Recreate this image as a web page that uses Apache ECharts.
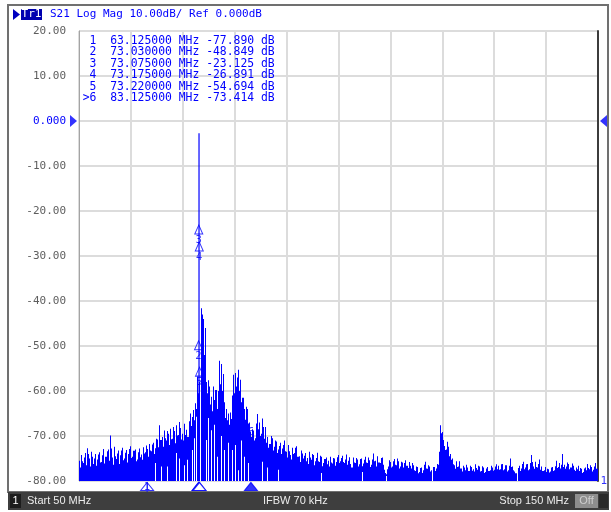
<!DOCTYPE html>
<html>
<head>
<meta charset="utf-8">
<script src="https://cdn.jsdelivr.net/npm/echarts@6/dist/echarts.min.js"></script>
<style>
  html, body { margin: 0; padding: 0; background: #ffffff; }
  #chart { width: 611px; height: 512px; }
</style>
</head>
<body>
<div id="chart"></div>
<script>
// Sweep: 50 MHz to 150 MHz, trace peak level sampled in 0.2 MHz bins
const startMHz = 50;
const stopMHz = 150;
const binMHz = 0.2;

// Peak level of each bin, 50.0 ... 150.0 MHz (dB), twenty bins (4 MHz) per row
const traceTopDb = [
  -75.5, -77.0, -74.2, -75.6, -76.0, -74.8, -73.8, -76.5, -72.7, -74.0, -75.0, -76.8, -73.5, -74.6, -76.2, -75.0, -74.0, -76.6, -75.2, -74.1,
  -73.6, -75.9, -75.8, -74.3, -72.9, -76.1, -74.6, -73.4, -73.0, -75.5, -69.9, -72.8, -74.8, -76.4, -72.4, -74.5, -75.1, -73.9, -73.2, -76.2,
  -74.3, -73.2, -72.6, -75.4, -75.0, -73.7, -73.1, -75.9, -74.0, -72.9, -72.3, -74.9, -74.6, -73.3, -73.0, -75.6, -75.2, -73.6, -72.8, -74.7,
  -74.1, -75.3, -72.5, -73.9, -73.6, -72.1, -72.9, -74.6, -71.8, -73.2, -73.4, -71.9, -71.5, -74.0, -72.7, -70.6, -70.8, -72.5, -67.6, -70.9,
  -70.2, -72.4, -68.8, -70.5, -71.0, -68.9, -69.5, -72.0, -68.4, -70.7, -70.6, -68.0, -68.9, -71.6, -67.6, -69.9, -69.8, -66.9, -68.2, -70.8,
  -69.5, -71.0, -67.3, -69.8, -68.6, -70.2, -66.7, -65.0, -67.8, -65.8, -64.2, -66.5, -62.7, -64.0, -56.8, -60.5, -58.0, -62.0, -41.6, -43.0,
  -44.0, -52.0, -46.0, -58.0, -60.5, -57.6, -59.0, -63.0, -61.3, -64.5, -59.0, -62.0, -59.8, -64.0, -60.0, -53.3, -58.5, -54.0, -60.0, -56.2,
  -62.5, -66.0, -64.0, -66.5, -65.0, -67.5, -64.8, -66.2, -61.0, -56.4, -60.5, -56.0, -59.0, -57.0, -55.3, -60.0, -57.5, -62.5, -61.5, -64.0,
  -66.4, -63.5, -64.0, -67.2, -67.0, -69.0, -70.2, -68.5, -68.8, -71.0, -70.5, -67.2, -65.1, -68.5, -67.0, -70.0, -69.5, -66.1, -68.0, -70.6,
  -68.0, -71.5, -70.2, -72.6, -71.8, -70.0, -70.5, -73.2, -72.4, -71.0, -71.2, -73.8, -73.0, -72.2, -71.5, -74.0, -72.8, -72.0, -71.0, -73.4,
  -73.5, -74.8, -72.0, -73.4, -74.2, -75.2, -72.6, -74.0, -73.8, -72.6, -72.3, -74.6, -74.5, -75.8, -73.2, -73.9, -75.0, -74.4, -73.8, -75.6,
  -74.9, -76.2, -73.5, -74.8, -75.3, -74.0, -74.2, -76.5, -75.6, -74.9, -73.7, -75.6, -75.8, -74.4, -74.6, -76.7, -76.0, -75.1, -74.8, -76.3,
  -75.5, -76.8, -74.6, -75.9, -76.1, -74.9, -75.0, -76.6, -75.8, -74.7, -74.2, -76.0, -75.6, -74.9, -74.4, -75.8, -76.0, -75.2, -74.1, -76.4,
  -75.5, -74.7, -76.2, -77.0, -74.8, -75.9, -76.0, -74.9, -75.2, -76.8, -76.3, -75.1, -75.0, -76.7, -76.1, -75.3, -74.6, -75.9, -76.0, -74.8,
  -75.4, -76.9, -76.4, -75.2, -73.9, -75.6, -75.5, -76.8, -74.5, -75.9, -76.0, -74.9, -74.8, -76.4, -77.5, -78.2, -78.5, -77.4, -76.8, -75.4,
  -75.8, -77.0, -76.8, -75.6, -75.1, -76.4, -76.5, -75.0, -75.6, -77.2, -76.8, -75.7, -75.9, -77.0, -76.0, -75.4, -76.6, -77.1, -75.8, -76.6,
  -77.2, -76.0, -76.5, -77.6, -77.8, -76.8, -76.9, -78.3, -78.0, -77.1, -77.0, -78.2, -77.6, -76.4, -75.7, -77.2, -77.3, -76.5, -76.8, -77.9,
  -77.6, -78.2, -76.9, -77.8, -77.2, -76.2, -76.4, -73.5, -67.6, -69.4, -69.1, -70.9, -72.2, -73.1, -73.0, -71.3, -72.4, -74.5, -74.0, -75.3,
  -75.0, -76.3, -76.5, -77.3, -75.6, -76.9, -76.8, -75.6, -77.2, -77.9, -76.6, -77.0, -77.6, -76.4, -77.0, -77.8, -77.8, -76.6, -76.9, -77.7,
  -77.4, -77.9, -76.3, -77.1, -77.5, -76.6, -76.8, -77.9, -77.8, -76.7, -77.0, -78.2, -78.0, -77.2, -76.9, -77.8, -77.6, -76.6, -77.0, -77.7,
  -77.5, -76.8, -76.3, -77.4, -76.6, -77.5, -77.4, -76.3, -76.2, -77.6, -77.4, -76.5, -76.5, -77.9, -77.6, -76.6, -75.0, -76.9, -76.8, -77.6,
  -77.9, -78.3, -78.0, -77.1, -76.6, -77.8, -77.2, -76.2, -75.7, -77.4, -77.0, -76.3, -76.2, -77.6, -77.4, -76.0, -74.2, -75.8, -76.8, -77.3,
  -75.7, -76.9, -77.0, -76.2, -75.2, -77.5, -76.8, -77.8, -77.6, -76.9, -78.0, -77.3, -77.4, -78.1, -77.9, -77.0, -76.9, -77.8, -77.6, -76.7,
  -75.5, -77.1, -76.9, -76.0, -77.2, -76.4, -74.0, -76.9, -76.4, -77.3, -76.8, -75.9, -76.2, -77.4, -77.0, -76.1, -76.6, -77.5, -77.8, -77.0,
  -77.4, -76.6, -77.8, -77.1, -77.3, -78.2, -78.0, -77.2, -77.0, -77.6, -76.2, -77.1, -77.4, -76.5, -76.9, -77.9, -77.5, -76.8, -76.0, -77.3,
  -77.2
];

// Narrow spots where the trace minimum stays above the bottom of the scale
const traceMinMHz = [64.6, 65.8, 67.0, 68.6, 69.3, 70.3, 70.9, 71.7, 72.1, 72.5, 73.4, 74.4, 74.9, 75.5, 76.1, 76.6, 77.3, 78.0, 78.7, 79.4,
                     80.1, 80.7, 81.3, 81.8, 82.6, 85.3, 86.2, 88.4, 96.7, 104.5, 109.1, 118.0, 134.3];
const traceMinDb  = [-76.0, -76.8, -76.8, -73.8, -75.0, -76.5, -75.3, -73.1, -70.5, -65.7, -62.0, -70.9, -66.0, -68.7, -67.5, -74.6, -70.0, -73.1, -71.5, -73.1,
                     -72.0, -77.6, -71.0, -74.6, -76.0, -75.7, -77.0, -77.5, -78.2, -78.0, -78.9, -78.0, -77.9];

// Carrier line
const carrierMHz = 73.125;
const carrierDb = -2.7;

// Markers
const markerIds = ['1', '2', '3', '4', '5', '6'];
const markerMHz = [63.125, 73.03, 73.075, 73.175, 73.22, 83.125];
const markerDb  = [-77.89, -48.849, -23.125, -26.891, -54.694, -73.414];
const activeMarker = 5;

// Vertical scale
const refLevelDb = 0;
const yTickValues = [20, 10, 0, -10, -20, -30, -40, -50, -60, -70, -80];
const yTickLabels = ['20.00', '10.00', '0.000', '-10.00', '-20.00', '-30.00', '-40.00', '-50.00', '-60.00', '-70.00', '-80.00'];

const BLUE = '#0000ff';
const MONO = 'DejaVu Sans Mono';

const chart = echarts.init(document.getElementById('chart'), null, { renderer: 'canvas' });

const traceData = traceTopDb.map((v, i) => [startMHz + i * binMHz, v]);
const gapData = traceMinMHz.map((f, i) => [f, traceMinDb[i]]);

function clipToGrid(params, rect) {
  const cs = params.coordSys;
  return echarts.graphic.clipRectByRect(rect, { x: cs.x, y: cs.y, width: cs.width, height: cs.height });
}

const markerRows = markerIds.map((id, i) => {
  const tag = (i === activeMarker ? '>' : '') + id;
  return tag.padStart(2, ' ') + '  ' + markerMHz[i].toFixed(6) + ' MHz ' + markerDb[i].toFixed(3) + ' dB';
});

const option = {
  animation: false,
  backgroundColor: '#ffffff',
  grid: { left: 79, top: 31, right: 13, bottom: 31, show: true, borderColor: '#a4a4a4', borderWidth: 1 },
  xAxis: {
    type: 'value', min: startMHz, max: stopMHz, interval: 10,
    axisLine: { show: false }, axisTick: { show: false }, axisLabel: { show: false },
    splitLine: { show: true, lineStyle: { color: '#dcdcdc', width: 2 } }
  },
  yAxis: [{
    type: 'value', min: -80, max: 20, interval: 10,
    axisLine: { show: true, lineStyle: { color: '#a4a4a4', width: 1 } },
    axisTick: { show: false },
    splitLine: { show: true, lineStyle: { color: '#dcdcdc', width: 2 } },
    axisLabel: {
      margin: 13, fontFamily: MONO, fontSize: 11, color: '#5e5e5e',
      formatter: v => {
        const k = yTickValues.indexOf(v);
        const s = k >= 0 ? yTickLabels[k] : String(v);
        return v === refLevelDb ? '{ref|' + s + '}' : s;
      },
      rich: { ref: { color: BLUE, fontFamily: MONO, fontSize: 11 } }
    }
  }, {
    type: 'value', position: 'right', min: -80, max: 20, interval: 10,
    axisLine: { show: true, onZero: false, lineStyle: { color: '#3c3c3c', width: 2 } },
    axisTick: { show: false }, axisLabel: { show: false }, splitLine: { show: false }
  }],
  series: [
    {
      name: 'trace', type: 'custom', z: 2,
      data: traceData, encode: { x: 0, y: 1 },
      renderItem: (params, api) => {
        const f = api.value(0);
        const a = api.coord([f - binMHz / 2, api.value(1)]);
        const b = api.coord([f + binMHz / 2, -80]);
        const x0 = Math.round(a[0]), x1 = Math.max(Math.round(b[0]), x0 + 1);
        const r = clipToGrid(params, { x: x0, y: a[1], width: x1 - x0, height: b[1] - a[1] + 1 });
        return r && { type: 'rect', shape: r, style: { fill: BLUE } };
      }
    },
    {
      name: 'trace minimum', type: 'custom', z: 3,
      data: gapData, encode: { x: 0, y: 1 },
      renderItem: (params, api) => {
        const a = api.coord([api.value(0), api.value(1)]);
        const b = api.coord([api.value(0), -80]);
        const x0 = Math.round(a[0]);
        const r = clipToGrid(params, { x: x0, y: a[1], width: 1, height: b[1] - a[1] });
        return r && { type: 'rect', shape: r, style: { fill: '#ffffff' } };
      }
    },
    {
      name: 'carrier', type: 'line', z: 4, symbol: 'none',
      data: [[carrierMHz, -80], [carrierMHz, carrierDb]],
      lineStyle: { color: BLUE, width: 1.2 }
    },
    {
      name: 'markers', type: 'scatter', z: 6, clip: false,
      symbol: 'triangle', symbolSize: [8, 9], symbolOffset: [0, 4.5],
      itemStyle: { color: 'rgba(255,255,255,0)', borderColor: BLUE, borderWidth: 1 },
      data: markerMHz.map((f, i) => ({
        value: [f, markerDb[i]],
        label: i === activeMarker ? { position: 'top', distance: 13 } : { position: 'bottom', distance: 1 }
      })),
      label: {
        show: true, color: BLUE, fontFamily: 'DejaVu Sans', fontSize: 10,
        formatter: p => markerIds[p.dataIndex]
      }
    },
    {
      name: 'marker stimulus', type: 'scatter', z: 6, clip: false,
      symbolSize: [13, 8], symbolOffset: [0, 5.5],
      itemStyle: { color: '#ffffff', borderColor: BLUE, borderWidth: 1 },
      data: markerMHz.map((f, i) => {
        if (i === 0) {
          return { value: [f, -80], symbol: 'path://M6.5,0 L13,8 L0,8 Z M6.5,0 L6.5,11 M3,11 L10,11', symbolSize: [13, 11], symbolOffset: [0, 7] };
        }
        if (i === activeMarker) {
          return { value: [f, -80], symbol: 'triangle', itemStyle: { color: BLUE } };
        }
        return { value: [f, -80], symbol: 'triangle' };
      })
    },
    {
      name: 'reference level', type: 'scatter', z: 6, clip: false,
      symbol: 'triangle', symbolSize: [12, 7],
      itemStyle: { color: BLUE },
      data: [
        { value: [startMHz, refLevelDb], symbolRotate: -90, symbolOffset: [-5.5, 0] },
        { value: [stopMHz, refLevelDb], symbolRotate: 90, symbolOffset: [5.5, 0] }
      ]
    },
    {
      name: 'trace number', type: 'scatter', z: 6, clip: false,
      symbolSize: 1, itemStyle: { color: 'rgba(0,0,0,0)' },
      data: [[stopMHz, -80]],
      label: { show: true, position: 'right', distance: 2, formatter: '1', color: BLUE, fontFamily: MONO, fontSize: 11 }
    }
  ],
  graphic: [
    // panel frame
    { type: 'rect', z: 0, shape: { x: 8, y: 5, width: 600, height: 487 }, style: { fill: 'none', stroke: '#707070', lineWidth: 2 } },
    // trace title row
    { type: 'polygon', z: 10, shape: { points: [[13, 9], [20, 14.5], [13, 20]] }, style: { fill: '#0000c0' } },
    { type: 'rect', z: 10, shape: { x: 21, y: 9, width: 21, height: 11 }, style: { fill: '#0000b0' } },
    { type: 'text', z: 11, x: 31.5, y: 14.5, style: { text: 'Tr1', fill: '#ffffff', font: '11px "DejaVu Sans Mono"', textAlign: 'center', textVerticalAlign: 'middle' } },
    { type: 'text', z: 10, x: 50, y: 14.5, style: { text: 'S21 Log Mag 10.00dB/ Ref 0.000dB', fill: BLUE, font: '11px "DejaVu Sans Mono"', textAlign: 'left', textVerticalAlign: 'middle' } },
    // marker table
    ...markerRows.map((row, i) => ({
      type: 'text', z: 20, x: 82.7, y: 40.7 + i * 11.5,
      style: { text: row, fill: BLUE, font: '11.4px "DejaVu Sans Mono"', textAlign: 'left', textVerticalAlign: 'middle' }
    })),
    // status bar
    { type: 'rect', z: 10, shape: { x: 8, y: 492, width: 601, height: 18 }, style: { fill: '#3e3e3e' } },
    { type: 'rect', z: 11, shape: { x: 10, y: 494, width: 11, height: 14 }, style: { fill: '#1c1c1c' } },
    { type: 'text', z: 12, x: 15.5, y: 501, style: { text: '1', fill: '#ffffff', font: '11px "Liberation Sans"', textAlign: 'center', textVerticalAlign: 'middle' } },
    { type: 'text', z: 12, x: 27, y: 501, style: { text: 'Start 50 MHz', fill: '#ececec', font: '11px "Liberation Sans"', textAlign: 'left', textVerticalAlign: 'middle' } },
    { type: 'text', z: 12, x: 263, y: 501, style: { text: 'IFBW 70 kHz', fill: '#ececec', font: '11px "Liberation Sans"', textAlign: 'left', textVerticalAlign: 'middle' } },
    { type: 'text', z: 12, x: 569, y: 501, style: { text: 'Stop 150 MHz', fill: '#ececec', font: '11px "Liberation Sans"', textAlign: 'right', textVerticalAlign: 'middle' } },
    { type: 'rect', z: 11, shape: { x: 575, y: 494, width: 23, height: 14 }, style: { fill: '#8e8e8e' } },
    { type: 'text', z: 12, x: 586.5, y: 501, style: { text: 'Off', fill: '#cfcfcf', font: '11px "Liberation Sans"', textAlign: 'center', textVerticalAlign: 'middle' } },
    { type: 'rect', z: 11, shape: { x: 599, y: 494, width: 9, height: 14 }, style: { fill: '#2a2a2a' } }
  ]
};

chart.setOption(option);
</script>
</body>
</html>
